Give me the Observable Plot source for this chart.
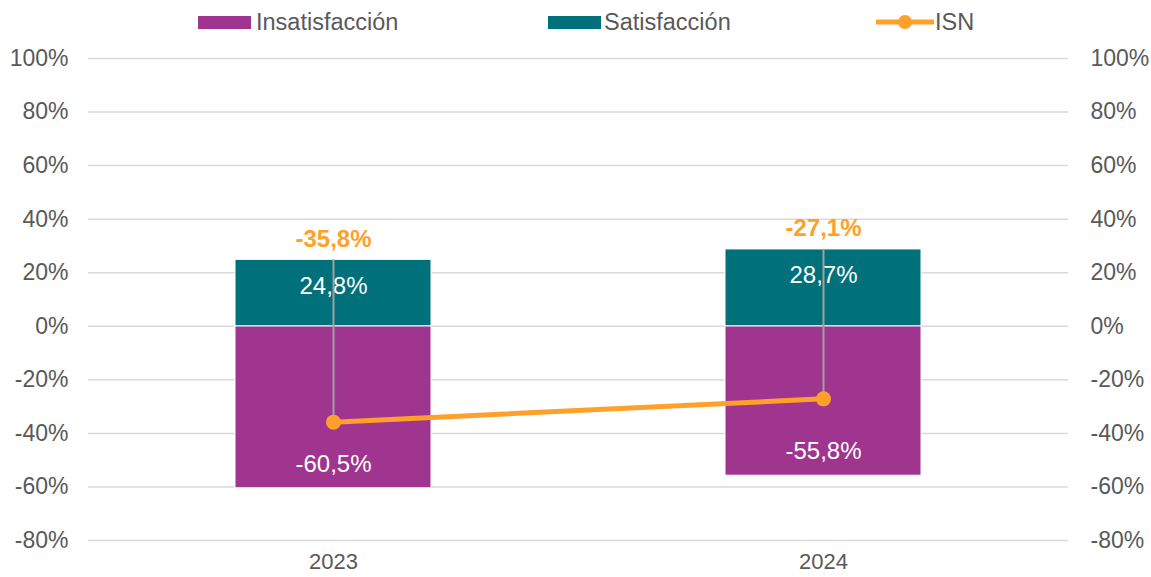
<!DOCTYPE html>
<html>
<head>
<meta charset="utf-8">
<script src="https://cdn.jsdelivr.net/npm/d3@7"></script>
<script src="https://cdn.jsdelivr.net/npm/@observablehq/plot@0.6"></script>
<style>
  body { margin: 0; background: #fff; font-family: "Liberation Sans", Arial, sans-serif; }
  #legend { position: relative; width: 1151px; height: 45px; color: #595959; font-size: 23.5px; }
  #legend .sw { position: absolute; top: 16px; height: 13px; }
  #legend .tx { position: absolute; top: 9px; line-height: 26px; }
  #legend svg { position: absolute; top: 12px; }
</style>
</head>
<body>
<div id="legend"></div>
<div id="chart"></div>
<script>
const years = ["2023", "2024"];
const seriesNames = ["Insatisfacción", "Satisfacción", "ISN"];
const insatisfaccion = [-60.5, -55.8];
const satisfaccion = [24.8, 28.7];
const isn = [-35.8, -27.1];
const yTicks = [-80, -60, -40, -20, 0, 20, 40, 60, 80, 100];
const colors = ["#A03590", "#00717B", "#FFA02B"];

const fmt = v => v.toFixed(1).replace(".", ",") + "%";
const tickFmt = d => d + "%";

const barRows = [];
years.forEach((y, i) => {
  barRows.push({year: y, serie: seriesNames[0], value: insatisfaccion[i]});
  barRows.push({year: y, serie: seriesNames[1], value: satisfaccion[i]});
});
const isnRows = years.map((y, i) => ({year: y, value: isn[i], sat: satisfaccion[i]}));

// Legend (HTML, above the SVG)
const legend = document.getElementById("legend");
legend.innerHTML = `
  <div class="sw" style="left:198px;width:53px;background:${colors[0]}"></div>
  <div class="tx" style="left:256px">${seriesNames[0]}</div>
  <div class="sw" style="left:548px;width:53px;background:${colors[1]}"></div>
  <div class="tx" style="left:604px">${seriesNames[1]}</div>
  <svg width="58" height="20" style="left:876px">
    <line x1="1" y1="10" x2="57" y2="10" stroke="${colors[2]}" stroke-width="5" stroke-linecap="round"/>
    <circle cx="29" cy="10" r="7" fill="${colors[2]}"/>
  </svg>
  <div class="tx" style="left:935px">${seriesNames[2]}</div>`;

const chart = Plot.plot({
  width: 1151,
  height: 532,
  marginTop: 13,
  marginBottom: 37,
  marginLeft: 88,
  marginRight: 83,
  style: {fontSize: "23px", fontFamily: "Liberation Sans, Arial, sans-serif", color: "#595959", background: "#fff"},
  x: {domain: years, paddingInner: 0.6, paddingOuter: 0.3, label: null},
  y: {domain: [-80, 100], label: null},
  color: {domain: seriesNames.slice(0, 2), range: colors.slice(0, 2)},
  marks: [
    Plot.ruleY(yTicks, {stroke: "#D9D9D9", strokeWidth: 1.5}),
    Plot.barY(barRows, {x: "year", y: "value", fill: "serie", stroke: "#fff", strokeWidth: 1}),
    Plot.text(barRows.filter(d => d.value > 0), {x: "year", y: "value", text: d => fmt(d.value), dy: 26, fill: "white", fontSize: 24}),
    Plot.text(barRows.filter(d => d.value < 0), {x: "year", y: "value", text: d => fmt(d.value), dy: -24, fill: "white", fontSize: 24}),
    Plot.ruleX(isnRows, {x: "year", y1: "value", y2: "sat", stroke: "#A0A0A0", strokeWidth: 2, insetTop: -6}),
    Plot.line(isnRows, {x: "year", y: "value", stroke: colors[2], strokeWidth: 5}),
    Plot.dot(isnRows, {x: "year", y: "value", r: 7.5, fill: colors[2]}),
    Plot.text(isnRows, {x: "year", y: "sat", text: d => fmt(d.value), dy: -21, fill: colors[2], fontWeight: "bold", fontSize: 24}),
    Plot.axisY(yTicks, {anchor: "left", tickSize: 0, tickPadding: 20, tickFormat: tickFmt, label: null}),
    Plot.axisY(yTicks, {anchor: "right", tickSize: 0, tickPadding: 22, tickFormat: tickFmt, label: null}),
    Plot.axisX({tickSize: 0, tickPadding: 13, fontSize: 22, label: null})
  ]
});
document.getElementById("chart").appendChild(chart);
</script>
</body>
</html>
